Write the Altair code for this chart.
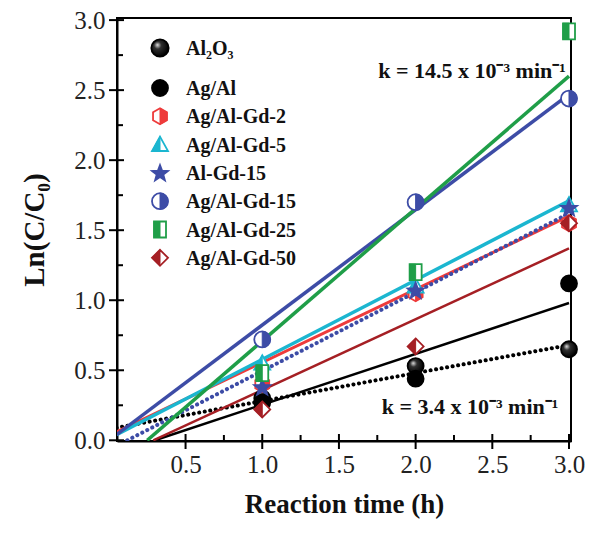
import math
import altair as alt
import pandas as pd

# ---------------- data ----------------
series = ["Al2O3", "Ag/Al", "Ag/Al-Gd-2", "Ag/Al-Gd-5", "Al-Gd-15",
          "Ag/Al-Gd-15", "Ag/Al-Gd-25", "Ag/Al-Gd-50"]
labels = ["Al₂O₃", "Ag/Al", "Ag/Al-Gd-2", "Ag/Al-Gd-5", "Al-Gd-15",
          "Ag/Al-Gd-15", "Ag/Al-Gd-25", "Ag/Al-Gd-50"]
times = [1.0, 2.0, 3.0]
y_al2o3 = [0.30, 0.53, 0.65]
y_agal = [0.27, 0.44, 1.12]
y_gd2 = [0.40, 1.05, 1.55]
y_gd5 = [0.55, 1.10, 1.68]
y_algd15 = [0.38, 1.07, 1.66]
y_gd15 = [0.72, 1.70, 2.44]
y_gd25 = [0.48, 1.20, 2.92]
y_gd50 = [0.22, 0.67, 1.55]
values = [y_al2o3, y_agal, y_gd2, y_gd5, y_algd15, y_gd15, y_gd25, y_gd50]

# linear fit lines (start / end)
fit_x0 = [0.05, 0.30, 0.05, 0.05, 0.12, 0.05, 0.25, 0.29]
fit_y0 = [0.09, 0.00, 0.06, 0.04, 0.00, 0.04, 0.00, 0.00]
fit_x1 = [3.0, 3.0, 3.0, 3.0, 3.0, 3.0, 3.0, 3.0]
fit_y1 = [0.68, 0.98, 1.60, 1.71, 1.62, 2.47, 2.60, 1.37]

annotations = ["k = 14.5 x 10⁻³ min⁻¹", "k = 3.4 x 10⁻³ min⁻¹"]

x_major = [0.5, 1.0, 1.5, 2.0, 2.5, 3.0]
x_minor = [0.75, 1.25, 1.75, 2.25, 2.75]
y_major = [0.0, 0.5, 1.0, 1.5, 2.0, 2.5, 3.0]
y_minor = [0.25, 0.75, 1.25, 1.75, 2.25, 2.75]

# ---------------- styles ----------------
colors = ["#000000", "#000000", "#ee3b3b", "#1bb6d0", "#3d4ca6",
          "#3d4ca6", "#1f9e48", "#a51f24"]
line_widths = [3.5, 2.5, 3.0, 3.5, 3.5, 3.5, 3.5, 2.5]
dotted = [True, False, False, False, True, False, False, False]

W, H = 454, 423
FONT = "Liberation Serif"

CIRCLE = "M -1 0 A 1 1 0 1 0 1 0 A 1 1 0 1 0 -1 0 Z"
CIRCLE_RIGHT = "M 0 -1 A 1 1 0 0 1 0 1 Z"
HEX = "M 0 -1 L 0.87 -0.5 L 0.87 0.5 L 0 1 L -0.87 0.5 L -0.87 -0.5 Z"
HEX_RIGHT = "M 0 -1 L 0.87 -0.5 L 0.87 0.5 L 0 1 Z"
TRI = "M 0 -1 L 1 0.8 L -1 0.8 Z"
TRI_LEFT = "M 0 -1 L 0 0.8 L -1 0.8 Z"
SQ = "M -0.75 -1 L 0.75 -1 L 0.75 1 L -0.75 1 Z"
SQ_LEFT = "M -0.75 -1 L 0 -1 L 0 1 L -0.75 1 Z"
DIA = "M 0 -1 L 1 0 L 0 1 L -1 0 Z"
DIA_LEFT = "M 0 -1 L 0 1 L -1 0 Z"
pts = []
for k in range(10):
    r = 1.0 if k % 2 == 0 else 0.42
    a = math.radians(-90 + 36 * k)
    pts.append(f"{r*math.cos(a)*1.05:.3f} {r*math.sin(a)*1.05+0.08:.3f}")
STAR = "M " + " L ".join(pts) + " Z"

sphere_fill = alt.RadialGradient(
    gradient="radial",
    x1=0.35, y1=0.32, r1=0.0, x2=0.4, y2=0.4, r2=0.6,
    stops=[alt.GradientStop(offset=0.0, color="#e0e0e0"),
           alt.GradientStop(offset=0.35, color="#303030"),
           alt.GradientStop(offset=1.0, color="#000000")],
)

# (outline shape, half shape or None, full fill)
marker_specs = [
    (CIRCLE, None, sphere_fill),
    (CIRCLE, None, "#000000"),
    (HEX, HEX_RIGHT, "white"),
    (TRI, TRI_LEFT, "white"),
    (STAR, None, colors[4]),
    (CIRCLE, CIRCLE_RIGHT, "white"),
    (SQ, SQ_LEFT, "white"),
    (DIA, DIA_LEFT, "white"),
]
MS = 256

xs = alt.Scale(domain=[0.053, 3.013], nice=False, zero=False)
ys = alt.Scale(domain=[-0.005, 3.015], nice=False, zero=False)

layers = []

# fit lines
for i, s in enumerate(series):
    df = pd.DataFrame({"x": [fit_x0[i], fit_x1[i]], "y": [fit_y0[i], fit_y1[i]]})
    kw = dict(color=colors[i], strokeWidth=line_widths[i], clip=True)
    if dotted[i]:
        kw.update(strokeDash=[0.1, 5.5], strokeCap="round", strokeWidth=4)
    layers.append(
        alt.Chart(df).mark_line(**kw).encode(
            x=alt.X("x:Q", scale=xs,
                    axis=alt.Axis(values=x_major, format=".1f", ticks=False, grid=False,
                                  domainColor="black", domainWidth=2,
                                  labelFont=FONT, labelFontSize=25, labelColor="#222",
                                  labelPadding=11, title="Reaction time (h)",
                                  titleFont=FONT, titleFontSize=27, titleFontWeight="bold",
                                  titleColor="#111", titlePadding=14)),
            y=alt.Y("y:Q", scale=ys,
                    axis=alt.Axis(values=y_major, format=".1f", ticks=False, grid=False,
                                  domainColor="black", domainWidth=2,
                                  labelFont=FONT, labelFontSize=25, labelColor="#222",
                                  labelPadding=12, title="Ln(C/C₀)",
                                  titleFont=FONT, titleFontSize=29, titleFontWeight="bold",
                                  titleColor="#111", titlePadding=24)),
        )
    )

# data points
for i, s in enumerate(series):
    df = pd.DataFrame({"x": times, "y": values[i]})
    shape, half, fill = marker_specs[i]
    enc = dict(x=alt.X("x:Q", scale=xs), y=alt.Y("y:Q", scale=ys))
    layers.append(alt.Chart(df).mark_point(shape=shape, filled=True, fill=fill,
                                           stroke=colors[i], strokeWidth=1.8,
                                           size=MS, opacity=1).encode(**enc))
    if half:
        layers.append(alt.Chart(df).mark_point(shape=half, filled=True, fill=colors[i],
                                               stroke=colors[i], strokeWidth=1,
                                               size=MS, opacity=1).encode(**enc))

# axis ticks (crossing majors, inner minors)
layers.append(alt.Chart(pd.DataFrame({"t": x_major})).mark_rule(color="black", strokeWidth=2)
              .encode(x=alt.X("t:Q", scale=xs), y=alt.value(H - 7), y2=alt.value(H + 8)))
layers.append(alt.Chart(pd.DataFrame({"t": x_minor})).mark_rule(color="black", strokeWidth=2)
              .encode(x=alt.X("t:Q", scale=xs), y=alt.value(H - 6), y2=alt.value(H)))
layers.append(alt.Chart(pd.DataFrame({"t": y_major})).mark_rule(color="black", strokeWidth=2)
              .encode(y=alt.Y("t:Q", scale=ys), x=alt.value(-8), x2=alt.value(7)))
layers.append(alt.Chart(pd.DataFrame({"t": y_minor})).mark_rule(color="black", strokeWidth=2)
              .encode(y=alt.Y("t:Q", scale=ys), x=alt.value(0), x2=alt.value(6)))

# legend
one = pd.DataFrame({"a": [0]})
for i, s in enumerate(series):
    ly = 30 if i == 0 else 70 + 28.3 * (i - 1)
    shape, half, fill = marker_specs[i]
    size = 300 if i == 0 else MS
    layers.append(alt.Chart(one).mark_point(shape=shape, filled=True, fill=fill,
                                            stroke=colors[i], strokeWidth=1.8,
                                            size=size, opacity=1)
                  .encode(x=alt.value(43), y=alt.value(ly)))
    if half:
        layers.append(alt.Chart(one).mark_point(shape=half, filled=True, fill=colors[i],
                                                stroke=colors[i], strokeWidth=1,
                                                size=size, opacity=1)
                      .encode(x=alt.value(43), y=alt.value(ly)))
    layers.append(alt.Chart(pd.DataFrame({"label": [labels[i]]}))
                  .mark_text(align="left", baseline="middle", font=FONT, fontWeight="bold",
                             fontSize=20, color="#111")
                  .encode(x=alt.value(69), y=alt.value(ly + 1), text="label:N"))

# rate-constant annotations
layers.append(alt.Chart(pd.DataFrame({"t": [annotations[0]]}))
              .mark_text(align="center", baseline="alphabetic", font=FONT, fontWeight="bold",
                         fontSize=22, color="#111")
              .encode(x=alt.value(355), y=alt.value(60), text="t:N"))
layers.append(alt.Chart(pd.DataFrame({"t": [annotations[1]]}))
              .mark_text(align="center", baseline="alphabetic", font=FONT, fontWeight="bold",
                         fontSize=22, color="#111")
              .encode(x=alt.value(353), y=alt.value(396), text="t:N"))

chart = alt.layer(*layers).properties(
    width=W, height=H,
    autosize=alt.AutoSizeParams(type="none"),
    padding={"left": 109, "top": 10, "right": 14, "bottom": 80},
).configure_view(stroke="black", strokeWidth=2)

chart.save("out.html", embed_options={"renderer": "svg", "actions": False})
